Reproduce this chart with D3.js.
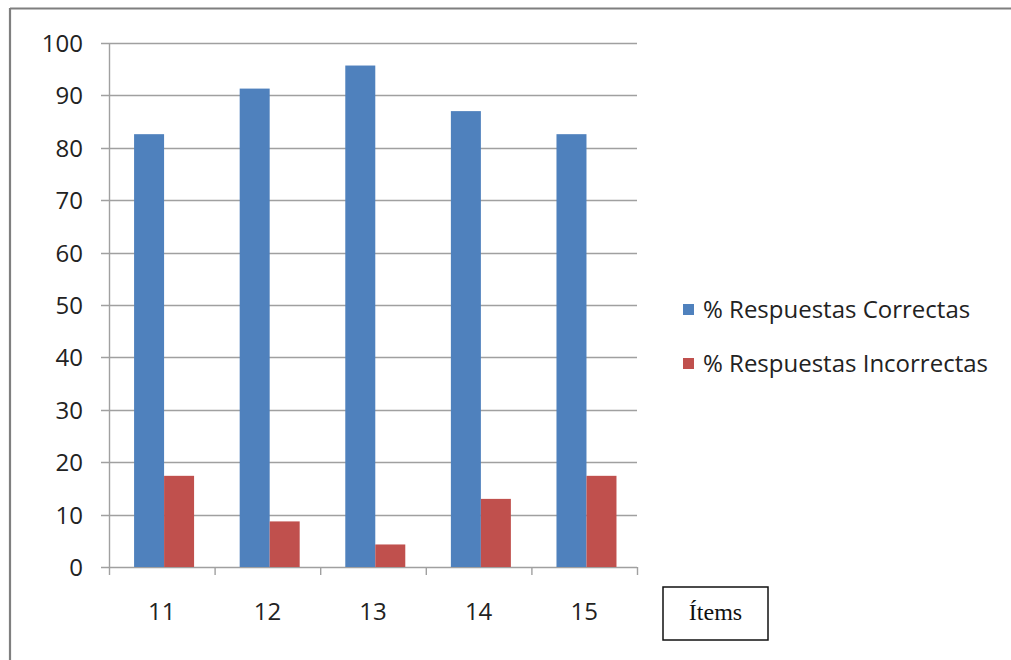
<!DOCTYPE html>
<html>
<head>
<meta charset="utf-8">
<script src="https://cdn.jsdelivr.net/npm/d3@7"></script>
<style>
  html, body { margin: 0; padding: 0; background: #ffffff; }
  svg { display: block; }
</style>
</head>
<body>
<svg id="chart" width="1011" height="660"></svg>
<script>
// Items and percentages of correct / incorrect answers
const items = ["11", "12", "13", "14", "15"];
const correctas = [82.6, 91.3, 95.7, 87.0, 82.6];
const incorrectas = [17.4, 8.7, 4.3, 13.0, 17.4];
const yTicks = [0, 10, 20, 30, 40, 50, 60, 70, 80, 90, 100];
const seriesNames = ["% Respuestas Correctas", "% Respuestas Incorrectas"];
const seriesColors = ["#4f81bd", "#c0504d"];

const svg = d3.select("#chart");
const fontSans = "'Open Sans', 'DejaVu Sans', sans-serif";

// Frame lines (top and left)
svg.append("line").attr("x1", 10).attr("x2", 1011).attr("y1", 8.5).attr("y2", 8.5)
  .attr("stroke", "#7f7f7f").attr("stroke-width", 2.2);
svg.append("line").attr("x1", 10).attr("x2", 10).attr("y1", 8).attr("y2", 660)
  .attr("stroke", "#7f7f7f").attr("stroke-width", 2.2);

const plot = { left: 109, right: 637, top: 43, bottom: 567 };

const x = d3.scaleBand().domain(items).range([plot.left, plot.right]).paddingInner(0).paddingOuter(0);
const inner = d3.scaleBand().domain([0, 1]).range([0, x.bandwidth()])
  .paddingOuter(0.76).paddingInner(0).align(0.55);
const y = d3.scaleLinear().domain([0, 100]).range([plot.bottom, plot.top]);

// Horizontal gridlines
svg.append("g")
  .selectAll("line")
  .data(yTicks)
  .join("line")
  .attr("x1", plot.left - 8)
  .attr("x2", plot.right)
  .attr("y1", d => Math.round(y(d)) + 0.5)
  .attr("y2", d => Math.round(y(d)) + 0.5)
  .attr("stroke", "#a0a0a0")
  .attr("stroke-width", 1.4);

// Bars
const groups = svg.append("g")
  .selectAll("g")
  .data(items.map((it, i) => ({ it, vals: [correctas[i], incorrectas[i]] })))
  .join("g")
  .attr("transform", d => `translate(${x(d.it)},0)`);

groups.selectAll("rect")
  .data(d => d.vals.map((v, k) => ({ v, k })))
  .join("rect")
  .attr("x", d => inner(d.k))
  .attr("width", inner.bandwidth())
  .attr("y", d => y(d.v))
  .attr("height", d => y(0) - y(d.v))
  .attr("fill", d => seriesColors[d.k]);

// Y axis
const yAxis = d3.axisLeft(y).tickValues(yTicks).tickSize(0).tickPadding(26);
const gy = svg.append("g").attr("transform", `translate(${plot.left},0)`).call(yAxis);
gy.select(".domain").attr("stroke", "#a0a0a0").attr("stroke-width", 1.4);
gy.selectAll("text")
  .attr("font-family", fontSans)
  .attr("font-size", 24)
  .attr("fill", "#222")
  .attr("dy", "0.35em");

// X axis
const xAxis = d3.axisBottom(x).tickSize(0).tickPadding(36);
const gx = svg.append("g").attr("transform", `translate(0,${plot.bottom})`).call(xAxis);
gx.select(".domain").remove();
gx.selectAll("text")
  .attr("font-family", fontSans)
  .attr("font-size", 24)
  .attr("fill", "#222");
// category separators on the x axis
svg.append("g")
  .selectAll("line")
  .data(items.map(d => x(d)).concat([plot.right]))
  .join("line")
  .attr("x1", d => d + 0.5).attr("x2", d => d + 0.5)
  .attr("y1", plot.bottom).attr("y2", plot.bottom + 8)
  .attr("stroke", "#a0a0a0").attr("stroke-width", 1.4);

// Legend
const legend = svg.append("g").attr("transform", "translate(683,309)");
seriesNames.forEach((name, i) => {
  const g = legend.append("g").attr("transform", `translate(0,${i * 54})`);
  g.append("rect").attr("x", 0).attr("y", -5).attr("width", 11).attr("height", 11)
    .attr("fill", seriesColors[i]);
  g.append("text").attr("x", 20).attr("y", 1).attr("dy", "0.35em")
    .attr("font-family", fontSans).attr("font-size", 24).attr("fill", "#222")
    .text(name);
});

// Axis title box
const box = svg.append("g").attr("transform", "translate(663,587)");
box.append("rect").attr("x", 0).attr("y", 0).attr("width", 105).attr("height", 53)
  .attr("fill", "#fff").attr("stroke", "#111").attr("stroke-width", 1.5);
box.append("text").attr("x", 52.5).attr("y", 25).attr("dy", "0.35em")
  .attr("text-anchor", "middle")
  .attr("font-family", "'Liberation Serif', 'DejaVu Serif', serif")
  .attr("font-size", 24).attr("fill", "#111")
  .text("Ítems");
</script>
</body>
</html>
